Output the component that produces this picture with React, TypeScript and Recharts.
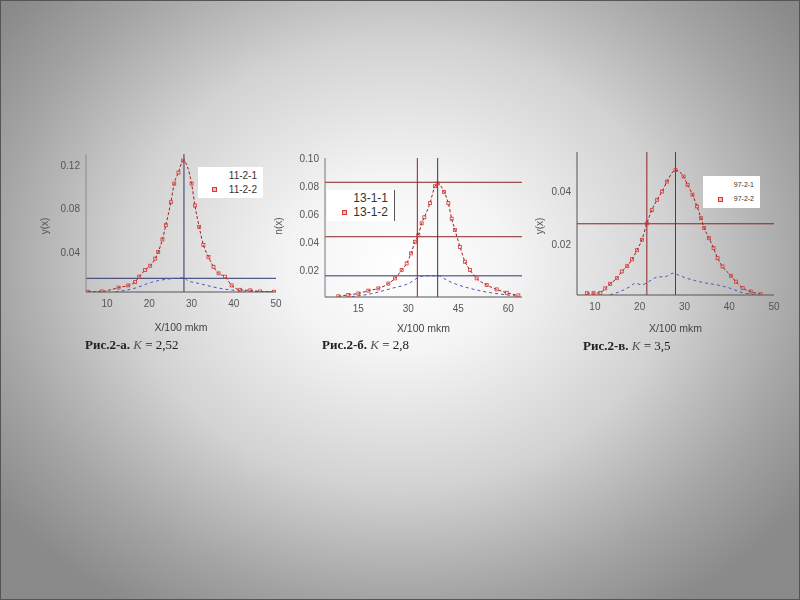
import React from 'react'
import { LineChart, Line, XAxis, YAxis, ReferenceLine } from 'recharts'

// --- data ---
// Рис.2-а
const aRedX = [5.5, 8.7, 12.7, 15.0, 16.6, 17.6, 19.0, 20.2, 21.4, 22.1, 23.1, 23.9, 25.1, 25.9, 26.9, 28.0, 30.0, 30.8, 31.8, 32.8, 34.0, 35.2, 36.4, 37.9, 39.5, 41.5, 43.9, 46.2, 49.5]
const aRedY = [0.0042, 0.0045, 0.008, 0.010, 0.013, 0.018, 0.024, 0.028, 0.0345, 0.0405, 0.052, 0.065, 0.086, 0.103, 0.113, 0.124, 0.103, 0.083, 0.0635, 0.047, 0.036, 0.027, 0.021, 0.018, 0.010, 0.006, 0.0055, 0.0045, 0.0042]
const aBlueX = [12, 13.5, 16.6, 20.6, 25.3, 28.5, 28.9, 32.0, 35.2, 39.1, 41.9, 45, 49]
const aBlueY = [0.0042, 0.005, 0.0075, 0.013, 0.0162, 0.017, 0.0147, 0.0116, 0.0085, 0.006, 0.005, 0.0045, 0.0042]
// Рис.2-б
const bRedX = [9, 12, 15, 18, 21, 24, 26, 28, 29.5, 30.8, 32, 33, 34, 34.8, 36.5, 38, 38.8, 40.7, 42, 43, 44, 45.5, 47, 48.5, 50.5, 53.5, 56.5, 59.5, 63]
const bRedY = [0.002, 0.003, 0.004, 0.006, 0.0076, 0.011, 0.0147, 0.0206, 0.0253, 0.0324, 0.0406, 0.0454, 0.0537, 0.058, 0.068, 0.080, 0.082, 0.076, 0.068, 0.057, 0.049, 0.037, 0.0265, 0.0206, 0.0147, 0.010, 0.0069, 0.0045, 0.0026]
const bBlueX = [13, 17, 21, 25, 30, 33.5, 35, 39, 41.5, 45, 48.5, 53.5, 59.5, 63]
const bBlueY = [0.0018, 0.003, 0.005, 0.0076, 0.011, 0.0158, 0.0165, 0.0165, 0.0135, 0.010, 0.0076, 0.005, 0.003, 0.002]
// Рис.2-в
const cRedX = [8.2, 9.7, 11.2, 12.3, 13.4, 14.9, 16, 17.2, 18.3, 19.4, 20.5, 21.6, 22.7, 23.9, 25, 26.1, 28, 29.8, 30.7, 31.8, 32.8, 33.7, 34.4, 35.5, 36.5, 37.4, 38.5, 40.4, 41.5, 43, 44.8, 47]
const cRedY = [0.0019, 0.0019, 0.002, 0.0037, 0.0054, 0.0075, 0.010, 0.012, 0.0146, 0.018, 0.0219, 0.028, 0.033, 0.0369, 0.040, 0.0437, 0.048, 0.0456, 0.0425, 0.0388, 0.0344, 0.030, 0.0263, 0.0225, 0.0188, 0.015, 0.0119, 0.0084, 0.0062, 0.0038, 0.0025, 0.0015]
const cBlueX = [13.4, 15.6, 17.9, 19, 20.5, 22, 23.9, 25.7, 27.6, 28.6, 30.5, 34.2, 37.2, 40.1, 43.1, 46]
const cBlueY = [0.0013, 0.0025, 0.0044, 0.0056, 0.005, 0.0062, 0.0079, 0.0081, 0.0094, 0.0087, 0.0075, 0.0059, 0.005, 0.0038, 0.002, 0.0014]

const aXTicks = [10, 20, 30, 40, 50]
const aYTicks = [0.04, 0.08, 0.12]
const aTopTicks = [6, 10, 14, 16, 18, 20, 22, 28, 34, 38, 42, 44, 46, 48]
const aRightTicks = [0.02, 0.03, 0.04, 0.06, 0.08, 0.1, 0.11, 0.12]
const bXTicks = [15, 30, 45, 60]
const bYTicks = [0.02, 0.04, 0.06, 0.08, 0.1]
const bTopTicks = [7.5, 10, 12.5, 15, 18, 30, 32.5, 39, 41.5, 44.5, 56.5, 59, 61.5, 63.5]
const bRightTicks = [0.02, 0.04, 0.06, 0.08]
const cXTicks = [10, 20, 30, 40, 50]
const cYTicks = [0.02, 0.04]

const zip = (xs: number[], ys: number[]) => xs.map((x, i) => ({ x, y: ys[i] }))

const FONT = '"Liberation Sans", Arial, sans-serif'
const RED = '#a51c1c'
const DARKRED = '#8b2323'
const NAVY = '#2e356e'
const BLUE = '#4b5ab4'

const squareDot = (props: any) => (
  <rect
    key={`sq-${props.index}`}
    x={props.cx - 1.5}
    y={props.cy - 1.5}
    width={3}
    height={3}
    fill="none"
    stroke="#d23a3a"
    strokeWidth={0.8}
  />
)

interface PlotProps {
  plot: { left: number; top: number; right: number; bottom: number }
  xDomain: [number, number]
  yDomain: [number, number]
  xTicks: number[]
  yTicks: number[]
  topTicks: number[]
  rightTicks: number[]
  red: { x: number; y: number }[]
  blue: { x: number; y: number }[]
  vLines: { x: number; color: string }[]
  hLines: { y: number; color: string }[]
  leftLine: string | false
  bottomLine: string
  topLine: string | false
  rightLine: string | false
  labelOffset: number
  fmt: (v: number) => string
}

function Plot(p: PlotProps) {
  const yW = 40
  const pw = p.plot.right - p.plot.left
  const ph = p.plot.bottom - p.plot.top
  const tickStyle = { fontSize: 10, fill: '#555', fontFamily: FONT }
  return (
    <div style={{ position: 'absolute', left: p.plot.left - yW, top: p.plot.top - 10 }}>
      <LineChart width={yW + pw + 10} height={10 + ph + 45} margin={{ top: 10, right: 10, bottom: 0, left: 0 }}>
        <XAxis
          type="number"
          dataKey="x"
          domain={p.xDomain}
          ticks={p.xTicks}
          allowDataOverflow
          height={45}
          tick={tickStyle}
          tickLine={false}
          tickSize={6}
          axisLine={{ stroke: p.bottomLine }}
          label={{ value: 'X/100 mkm', position: 'insideBottom', offset: p.labelOffset, style: { fontSize: 10.5, fill: '#444', fontFamily: FONT } }}
        />
        <XAxis
          xAxisId="top"
          orientation="top"
          type="number"
          domain={p.xDomain}
          ticks={p.topTicks}
          allowDataOverflow
          height={0}
          mirror
          tick={false}
          tickSize={3}
          tickLine={{ stroke: '#555' }}
          axisLine={p.topLine ? { stroke: p.topLine } : false}
        />
        <YAxis
          type="number"
          domain={p.yDomain}
          ticks={p.yTicks}
          allowDataOverflow
          width={yW}
          tick={tickStyle}
          tickFormatter={p.fmt}
          tickLine={false}
          tickSize={4}
          axisLine={p.leftLine ? { stroke: p.leftLine } : false}
        />
        <YAxis
          yAxisId="r"
          orientation="right"
          type="number"
          domain={p.yDomain}
          ticks={p.rightTicks}
          allowDataOverflow
          width={0}
          mirror
          tick={false}
          tickSize={3}
          tickLine={{ stroke: '#555' }}
          axisLine={p.rightLine ? { stroke: p.rightLine } : false}
        />
        {p.hLines.map((h, i) => (
          <ReferenceLine key={`h${i}`} y={h.y} stroke={h.color} strokeWidth={1} ifOverflow="hidden" />
        ))}
        {p.vLines.map((v, i) => (
          <ReferenceLine key={`v${i}`} x={v.x} stroke={v.color} strokeWidth={1} ifOverflow="hidden" />
        ))}
        <Line
          data={p.blue}
          dataKey="y"
          type="monotone"
          stroke={BLUE}
          strokeWidth={1}
          strokeDasharray="3 3"
          dot={false}
          isAnimationActive={false}
        />
        <Line
          data={p.red}
          dataKey="y"
          type="monotone"
          stroke={RED}
          strokeWidth={1}
          strokeDasharray="3 2"
          dot={squareDot}
          isAnimationActive={false}
        />
      </LineChart>
    </div>
  )
}

const legendBox = (left: number, top: number, w: number, h: number, size: number, names: string[], markX: number, extra?: React.CSSProperties) => (
  <div
    style={{
      position: 'absolute',
      left,
      top,
      width: w,
      height: h,
      background: '#fff',
      fontFamily: FONT,
      fontSize: size,
      color: '#333',
      lineHeight: `${h / 2 - 2}px`,
      paddingTop: 2,
      boxSizing: 'border-box',
      ...extra,
    }}
  >
    <div style={{ textAlign: 'right', paddingRight: 6 }}>{names[0]}</div>
    <div style={{ textAlign: 'right', paddingRight: 6, position: 'relative' }}>
      <span
        style={{
          position: 'absolute',
          left: markX,
          top: '50%',
          width: 3,
          height: 3,
          marginTop: -2,
          background: '#f4b8b8',
          border: '1px solid #d23a3a',
        }}
      />
      {names[1]}
    </div>
  </div>
)

const yLabel = (x: number, y: number, text: string) => (
  <div
    style={{
      position: 'absolute',
      left: x - 15,
      top: y - 7,
      width: 30,
      height: 14,
      textAlign: 'center',
      fontFamily: FONT,
      fontSize: 10,
      color: '#555',
      transform: 'rotate(-90deg)',
    }}
  >
    {text}
  </div>
)

const caption = (x: number, y: number, head: string, tail: string) => (
  <div
    style={{
      position: 'absolute',
      left: x,
      top: y - 8,
      fontFamily: '"Liberation Serif", "Times New Roman", serif',
      fontSize: 13,
      lineHeight: '16px',
      color: '#222',
      whiteSpace: 'nowrap',
    }}
  >
    <b>{head}</b> <i style={{ color: '#555' }}>K</i> = {tail}
  </div>
)

export default function App() {
  const fmt2 = (v: number) => v.toFixed(2)
  return (
    <div
      style={{
        position: 'fixed',
        left: 0,
        top: 0,
        width: 800,
        height: 600,
        overflow: 'hidden',
        background: 'radial-gradient(ellipse 62% 68% at 50% 44%, #ffffff 0%, #f4f4f4 22%, #d2d2d2 55%, #a4a4a4 82%, #8a8a8a 100%)',
        boxShadow: 'inset 0 0 0 1px #555',
      }}
    >
      <Plot
        plot={{ left: 86, top: 154, right: 276, bottom: 292 }}
        xDomain={[5, 50]}
        yDomain={[0.004, 0.13]}
        xTicks={aXTicks}
        yTicks={aYTicks}
        topTicks={aTopTicks}
        rightTicks={aRightTicks}
        red={zip(aRedX, aRedY)}
        blue={zip(aBlueX, aBlueY)}
        vLines={[{ x: 28.2, color: NAVY }]}
        hLines={[{ y: 0.0165, color: NAVY }]}
        leftLine="#8a8a8a"
        bottomLine="#555"
        topLine={false}
        rightLine={false}
        labelOffset={6}
        fmt={fmt2}
      />
      <Plot
        plot={{ left: 325, top: 158, right: 522, bottom: 297 }}
        xDomain={[5, 64.1]}
        yDomain={[0.0015, 0.1]}
        xTicks={bXTicks}
        yTicks={bYTicks}
        topTicks={bTopTicks}
        rightTicks={bRightTicks}
        red={zip(bRedX, bRedY)}
        blue={zip(bBlueX, bBlueY)}
        vLines={[{ x: 32.7, color: DARKRED }, { x: 38.8, color: NAVY }]}
        hLines={[{ y: 0.0828, color: DARKRED }, { y: 0.0442, color: DARKRED }, { y: 0.0165, color: NAVY }]}
        leftLine="#777"
        bottomLine="#555"
        topLine={false}
        rightLine="#999"
        labelOffset={10}
        fmt={fmt2}
      />
      <Plot
        plot={{ left: 577, top: 152, right: 774, bottom: 295 }}
        xDomain={[6, 50]}
        yDomain={[0.0012, 0.0548]}
        xTicks={cXTicks}
        yTicks={cYTicks}
        topTicks={[]}
        rightTicks={[]}
        red={zip(cRedX, cRedY)}
        blue={zip(cBlueX, cBlueY)}
        vLines={[{ x: 21.6, color: DARKRED }, { x: 28.0, color: '#444' }]}
        hLines={[{ y: 0.0279, color: DARKRED }]}
        leftLine="#555"
        bottomLine="#555"
        topLine="#555"
        rightLine="#555"
        labelOffset={8}
        fmt={fmt2}
      />

      {legendBox(198, 167, 65, 31, 10, ['11-2-1', '11-2-2'], 14)}
      {legendBox(327, 190, 68, 31, 12, ['13-1-1', '13-1-2'], 15, { borderRight: '1px solid #555' })}
      {legendBox(703, 176, 57, 32, 7, ['97-2-1', '97-2-2'], 15)}

      {yLabel(46, 226, 'y(x)')}
      {yLabel(280, 226, 'n(x)')}
      {yLabel(541, 226, 'y(x)')}

      {caption(85, 345, 'Рис.2-а.', '2,52')}
      {caption(322, 345, 'Рис.2-б.', '2,8')}
      {caption(583, 346, 'Рис.2-в.', '3,5')}
    </div>
  )
}
